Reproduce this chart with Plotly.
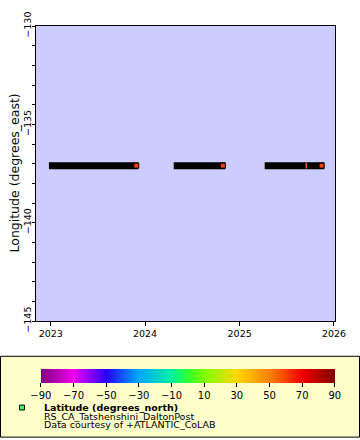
import plotly.graph_objects as go

# ---- data ----
segment_starts = ["2022-12-25", "2024-04-21", "2025-04-08"]
segment_ends = ["2023-12-06", "2024-11-07", "2025-11-25"]
segment_lon = [-137.1, -137.1, -137.1]
marker_dates = ["2023-11-28", "2024-10-28", "2025-11-14"]
marker_lon = [-137.1, -137.1, -137.1]
partial_marker_dates = ["2025-09-16"]
partial_marker_lon = [-137.1]
station_lat = 60.1
cbar_ticks = [-90, -70, -50, -30, -10, 10, 30, 50, 70, 90]

colorscale = [
    [0.0, "#800080"], [0.111, "#F000F0"], [0.222, "#2800FF"],
    [0.333, "#00A8FF"], [0.444, "#00F0A0"], [0.5, "#30FF30"],
    [0.556, "#80FF00"], [0.667, "#FFD800"], [0.778, "#FF8000"],
    [0.889, "#F00000"], [1.0, "#800000"],
]

FONT = "DejaVu Sans"

# line x/y with gaps
lx, ly = [], []
for s, e, v in zip(segment_starts, segment_ends, segment_lon):
    lx += [s, e, None]
    ly += [v, v, None]

fig = go.Figure()
fig.add_trace(go.Scatter(x=lx, y=ly, mode="lines",
                         line=dict(color="black", width=7),
                         showlegend=False, hoverinfo="skip"))
fig.add_trace(go.Scatter(
    x=partial_marker_dates, y=partial_marker_lon, mode="markers",
    marker=dict(symbol="line-ns-open", size=4,
                line=dict(width=1.5, color=[station_lat] * len(partial_marker_dates),
                          colorscale=colorscale, cmin=-90, cmax=90)),
    showlegend=False))
fig.add_trace(go.Scatter(
    x=marker_dates, y=marker_lon, mode="markers",
    marker=dict(symbol="square", size=5,
                color=[station_lat] * len(marker_dates),
                colorscale=colorscale, cmin=-90, cmax=90,
                line=dict(color="black", width=1),
                showscale=True,
                colorbar=dict(
                    orientation="h", x=(187.85 - 36) / 299, xanchor="center",
                    y=(321 - 370) / 301, yanchor="top",
                    len=293.7, lenmode="pixels", thickness=14,
                    xpad=0, ypad=0, outlinewidth=0,
                    tickvals=cbar_ticks, ticks="outside", ticklen=4,
                    tickcolor="black",
                    tickfont=dict(family=FONT, size=10, color="black"),
                )),
    showlegend=False))

W, H = 299, 301
def px(x):
    return (x - 36) / W
def py(y):
    return (321 - y) / H

fig.update_layout(
    width=360, height=440,
    margin=dict(l=36, r=25, t=20, b=119),
    paper_bgcolor="white", plot_bgcolor="#CCCCFF",
    font=dict(family=FONT, size=9, color="black"),
    xaxis=dict(type="date", range=["2022-11-05", "2026-01-05"],
               dtick="M12", tick0="2023-01-01", tickformat="%Y",
               showgrid=False, zeroline=False,
               showline=True, linecolor="black", linewidth=1, mirror=True,
               ticks="outside", ticklen=4, tickcolor="black",
               tickfont=dict(size=9.5)),
    yaxis=dict(range=[-145, -130], dtick=5, tick0=-145,
               showgrid=False, zeroline=False,
               showline=True, linecolor="black", linewidth=1, mirror=True,
               ticks="outside", ticklen=3, tickcolor="black",
               tickangle=-90, tickfont=dict(size=9.5),
               ticklabelstandoff=-3,
               minor=dict(dtick=1, ticks="outside", ticklen=3, tickcolor="black",
                          showgrid=False)),
    shapes=[
        dict(type="rect", xref="paper", yref="paper", layer="below",
             x0=px(0.5), x1=px(359.5), y0=py(439.5), y1=py(357),
             fillcolor="#FFFFCC", line=dict(color="black", width=1)),
        dict(type="rect", xref="paper", yref="paper",
             x0=px(19.5), x1=px(24.5), y0=py(411.8), y1=py(406.8),
             fillcolor="#40FF40", line=dict(color="black", width=1)),
    ],
    annotations=[
        dict(text="Longitude (degrees_east)", xref="paper", yref="paper",
             x=px(14), y=0.5, textangle=-90, showarrow=False,
             xanchor="center", yanchor="middle", font=dict(size=12.5)),
        dict(text="<b>Latitude (degrees_north)</b>", xref="paper", yref="paper",
             x=px(42), y=py(409), xanchor="left", yanchor="middle",
             showarrow=False, font=dict(size=9.5)),
        dict(text="RS_CA_Tatshenshini_DaltonPost", xref="paper", yref="paper",
             x=px(42), y=py(418), xanchor="left", yanchor="middle",
             showarrow=False, font=dict(size=9.5)),
        dict(text="Data courtesy of +ATLANTIC_CoLAB", xref="paper", yref="paper",
             x=px(42), y=py(427), xanchor="left", yanchor="middle",
             showarrow=False, font=dict(size=9.5)),
    ],
)

fig.write_html("out.html", config={"displayModeBar": False},
               post_script="document.body.style.margin='0';document.body.style.padding='0';")
